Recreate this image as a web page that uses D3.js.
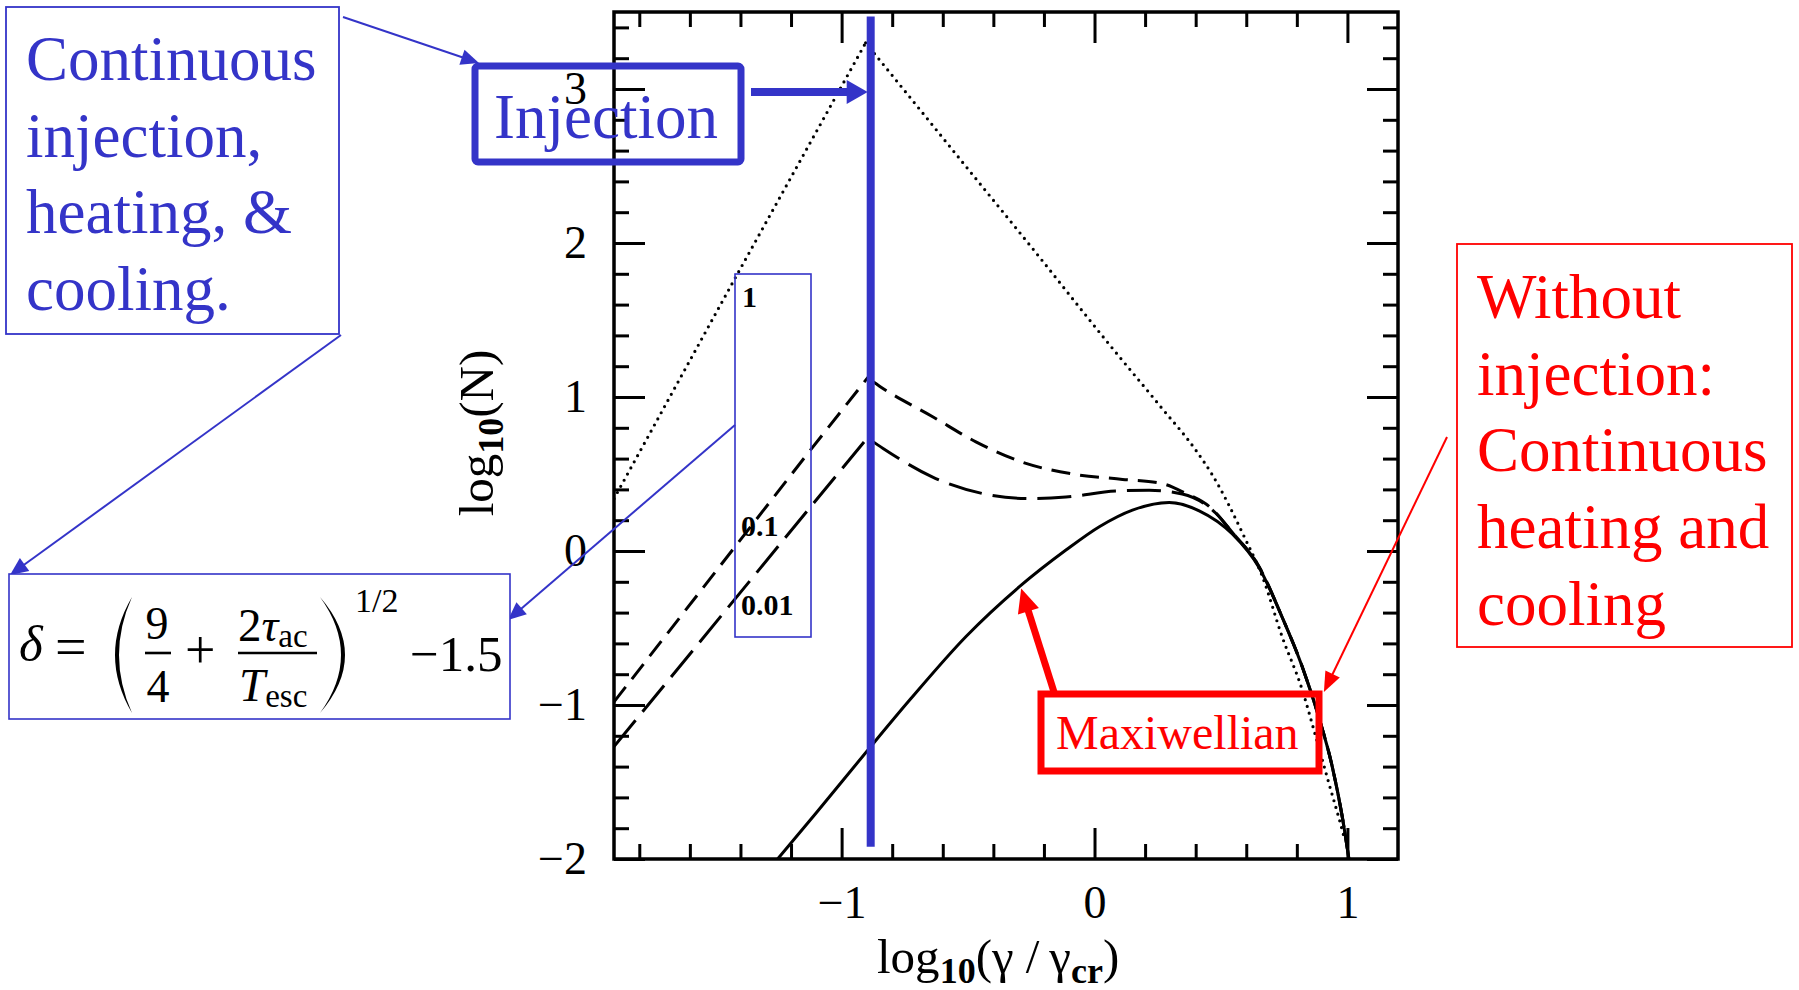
<!DOCTYPE html>
<html><head><meta charset="utf-8">
<script src="https://cdn.jsdelivr.net/npm/d3@7"></script>
<style>body{margin:0;background:#fff}svg{display:block}</style>
</head><body>
<svg id="c" width="1799" height="990"></svg>
<script>
// ---------- data ----------
const xDomain = [-1.9, 1.2];
const yDomain = [-2, 3.5];
const xMajorTicks = [-1, 0, 1];
const xMinorTicks = [-1.8,-1.6,-1.4,-1.2,-0.8,-0.6,-0.4,-0.2,0.2,0.4,0.6,0.8];
const yMajorTicks = [-2, -1, 0, 1, 2, 3];
const yMinorTicks = [-1.8,-1.6,-1.4,-1.2,-0.8,-0.6,-0.4,-0.2,0.2,0.4,0.6,0.8,1.2,1.4,1.6,1.8,2.2,2.4,2.6,2.8,3.2,3.4];
const xTickLabels = ["\u22121", "0", "1"];
const yTickLabels = ["\u22122", "\u22121", "0", "1", "2", "3"];

const injectionX = -0.885;
const injectionYRange = [-1.92, 3.47];

// dotted (1)
const dottedLeftX  = [-1.9, -1.415, -0.905];
const dottedLeftY  = [0.34, 1.79, 3.30];
const dottedRightX = [-0.905, -0.707, -0.505, -0.243, 0.059, 0.26, 0.40, 0.466, 0.598, 0.664, 0.742, 0.821, 0.874, 0.927, 0.979, 0.99];
const dottedRightY = [3.30, 2.90, 2.49, 1.96, 1.34, 0.94, 0.656, 0.494, 0.072, -0.167, -0.557, -0.90, -1.20, -1.51, -1.81, -1.88];

// short dashed (0.1)
const dash1LeftX  = [-1.9, -1.126, -0.885];
const dash1LeftY  = [-0.98, 0.65, 1.15];
const dash1RightX = [-0.885, -0.85, -0.64, -0.469, -0.271, -0.087, 0.111, 0.262, 0.36, 0.453, 0.545, 0.65, 0.742, 0.821, 0.887, 0.94, 0.979, 1.006];
const dash1RightY = [1.11, 1.07, 0.872, 0.709, 0.569, 0.50, 0.465, 0.44, 0.375, 0.29, 0.12, -0.10, -0.43, -0.75, -1.08, -1.40, -1.72, -2.0];

// long dashed (0.01)
const dash2LeftX  = [-1.9, -1.126, -0.885];
const dash2LeftY  = [-1.27, 0.28, 0.76];
const dash2RightX = [-0.885, -0.836, -0.64, -0.442, -0.258, -0.113, 0.084, 0.216, 0.347, 0.48, 0.545, 0.65, 0.742, 0.821, 0.887, 0.94, 0.979, 1.006];
const dash2RightY = [0.72, 0.666, 0.48, 0.373, 0.34, 0.35, 0.39, 0.395, 0.37, 0.245, 0.12, -0.10, -0.43, -0.75, -1.08, -1.40, -1.72, -2.0];

// solid (Maxwellian)
const solidX = [-1.253, -1.1, -0.9, -0.731, -0.508, -0.297, -0.113, 0.019, 0.15, 0.295, 0.414, 0.545, 0.65, 0.742, 0.821, 0.887, 0.94, 0.979, 1.006];
const solidY = [-2.0, -1.70, -1.30, -0.968, -0.555, -0.232, 0.006, 0.158, 0.266, 0.315, 0.261, 0.11, -0.106, -0.43, -0.75, -1.08, -1.40, -1.72, -2.0];

const curveLabels = ["1", "0.1", "0.01"];

// ---------- setup ----------
const svg = d3.select("#c");
svg.append("rect").attr("width",1799).attr("height",990).attr("fill","#fff");
const L = 614, R = 1398, T = 12, B = 859;
const x = d3.scaleLinear().domain(xDomain).range([L, R]);
const y = d3.scaleLinear().domain(yDomain).range([B, T]);
const BLUE = "#3434c8", RED = "#ff0000";
const SERIF = "'Liberation Serif','Times New Roman',serif";

svg.append("clipPath").attr("id","clip").append("rect")
  .attr("x",L).attr("y",T).attr("width",R-L).attr("height",B-T);

const zip = (xs, ys) => xs.map((v,i)=>[v, ys[i]]);
const lineLin = d3.line().x(d=>x(d[0])).y(d=>y(d[1])).curve(d3.curveLinear);
const lineSm = d3.line().x(d=>x(d[0])).y(d=>y(d[1])).curve(d3.curveMonotoneX);

const gc = svg.append("g").attr("clip-path","url(#clip)");
function drawCurve(data, smooth, dash, w, cap){
  gc.append("path").attr("d", (smooth?lineSm:lineLin)(data))
    .attr("fill","none").attr("stroke","#000").attr("stroke-width",w)
    .attr("stroke-dasharray", dash).attr("stroke-linecap", cap||"butt")
    .attr("stroke-linejoin","round");
}
drawCurve(zip(dottedLeftX, dottedLeftY), false, "0 7", 3.2, "round");
drawCurve(zip(dottedRightX, dottedRightY), true, "0 7", 3.2, "round");
drawCurve(zip(dash1LeftX, dash1LeftY), false, "19 10", 3);
drawCurve(zip(dash1RightX, dash1RightY), true, "19 10", 3);
drawCurve(zip(dash2LeftX, dash2LeftY), false, "34 11", 3);
drawCurve(zip(dash2RightX, dash2RightY), true, "34 11", 3);
drawCurve(zip(solidX, solidY), true, null, 3);

// ---------- axes ----------
function styleAxis(g){
  g.select(".domain").remove();
  g.selectAll(".tick line").attr("stroke","#000").attr("stroke-width",3);
  g.selectAll(".tick text").attr("font-family",SERIF).attr("font-size",46).attr("fill","#000");
}
svg.append("g").attr("transform",`translate(0,${B})`)
  .call(d3.axisBottom(x).tickValues(xMajorTicks).tickSizeInner(-31).tickSizeOuter(0).tickPadding(26)
    .tickFormat((d,i)=>xTickLabels[i])).call(styleAxis);
svg.append("g").attr("transform",`translate(0,${B})`)
  .call(d3.axisBottom(x).tickValues(xMinorTicks).tickSizeInner(-15).tickSizeOuter(0).tickFormat("")).call(styleAxis);
svg.append("g").attr("transform",`translate(0,${T})`)
  .call(d3.axisTop(x).tickValues(xMajorTicks).tickSizeInner(-31).tickSizeOuter(0).tickFormat("")).call(styleAxis);
svg.append("g").attr("transform",`translate(0,${T})`)
  .call(d3.axisTop(x).tickValues(xMinorTicks).tickSizeInner(-15).tickSizeOuter(0).tickFormat("")).call(styleAxis);
svg.append("g").attr("transform",`translate(${L},0)`)
  .call(d3.axisLeft(y).tickValues(yMajorTicks).tickSizeInner(-31).tickSizeOuter(0).tickPadding(27)
    .tickFormat((d,i)=>yTickLabels[i])).call(styleAxis);
svg.append("g").attr("transform",`translate(${L},0)`)
  .call(d3.axisLeft(y).tickValues(yMinorTicks).tickSizeInner(-15).tickSizeOuter(0).tickFormat("")).call(styleAxis);
svg.append("g").attr("transform",`translate(${R},0)`)
  .call(d3.axisRight(y).tickValues(yMajorTicks).tickSizeInner(-31).tickSizeOuter(0).tickFormat("")).call(styleAxis);
svg.append("g").attr("transform",`translate(${R},0)`)
  .call(d3.axisRight(y).tickValues(yMinorTicks).tickSizeInner(-15).tickSizeOuter(0).tickFormat("")).call(styleAxis);
svg.append("rect").attr("x",L).attr("y",T).attr("width",R-L).attr("height",B-T)
  .attr("fill","none").attr("stroke","#000").attr("stroke-width",3.5);

// axis titles
const xt = svg.append("text").attr("x",877).attr("y",973).attr("font-family",SERIF).attr("font-size",49).attr("fill","#000");
xt.append("tspan").text("log");
xt.append("tspan").attr("dy",10).attr("font-size",36).attr("font-weight","bold").text("10");
xt.append("tspan").attr("dy",-10).text("(\u03B3 /\u2009\u03B3");
xt.append("tspan").attr("dy",10).attr("font-size",36).attr("font-weight","bold").text("cr");
xt.append("tspan").attr("dy",-10).text(")");

const yt = svg.append("text").attr("transform","translate(493,433) rotate(-90)").attr("text-anchor","middle")
  .attr("font-family",SERIF).attr("font-size",49).attr("fill","#000");
yt.append("tspan").text("log");
yt.append("tspan").attr("dy",10).attr("font-size",36).attr("font-weight","bold").text("10");
yt.append("tspan").attr("dy",-10).text("(N)");

// ---------- curve labels ----------
const lab = svg.append("g").attr("font-family",SERIF).attr("font-weight","bold").attr("font-size",30).attr("fill","#000");
lab.append("text").attr("x",742).attr("y",307).text(curveLabels[0]);
lab.append("text").attr("x",741).attr("y",536).text(curveLabels[1]);
lab.append("text").attr("x",741).attr("y",615).text(curveLabels[2]);
svg.append("rect").attr("x",735).attr("y",274).attr("width",76).attr("height",363)
  .attr("fill","none").attr("stroke",BLUE).attr("stroke-width",1.6);

// ---------- injection line ----------
svg.append("line").attr("x1",x(injectionX)).attr("x2",x(injectionX))
  .attr("y1",y(injectionYRange[0])).attr("y2",y(injectionYRange[1]))
  .attr("stroke",BLUE).attr("stroke-width",8);

// ---------- annotations ----------
function arrow(x1,y1,x2,y2,color,w,hl,hw){
  const dx=x2-x1, dy=y2-y1, len=Math.hypot(dx,dy), ux=dx/len, uy=dy/len;
  const bx=x2-ux*hl, by=y2-uy*hl;
  svg.append("line").attr("x1",x1).attr("y1",y1).attr("x2",bx+ux*1).attr("y2",by+uy*1)
    .attr("stroke",color).attr("stroke-width",w);
  svg.append("path").attr("d",`M${x2},${y2}L${bx-uy*hw},${by+ux*hw}L${bx+uy*hw},${by-ux*hw}Z`).attr("fill",color);
}

// Injection box
svg.append("rect").attr("x",475).attr("y",66).attr("width",266).attr("height",96).attr("rx",3)
  .attr("fill","none").attr("stroke",BLUE).attr("stroke-width",7);
svg.append("text").attr("x",494).attr("y",138).attr("font-family",SERIF).attr("font-size",63)
  .attr("fill",BLUE).text("Injection");
arrow(751, 92, x(-0.897), 92, BLUE, 8, 21, 12);

// top-left box
svg.append("rect").attr("x",6).attr("y",7).attr("width",333).attr("height",327)
  .attr("fill","none").attr("stroke",BLUE).attr("stroke-width",1.8);
const tl = svg.append("text").attr("font-family",SERIF).attr("font-size",63).attr("fill",BLUE);
["Continuous","injection,","heating, &","cooling."].forEach((s,i)=>
  tl.append("tspan").attr("x",26).attr("y",80+i*76.7).text(s));
arrow(343, 17, 479, 63, BLUE, 2, 18, 8);
arrow(341, 335, 10, 575, BLUE, 2, 18, 8);
arrow(735, 425, 508, 620, BLUE, 2, 18, 8);

// formula box
svg.append("rect").attr("x",9).attr("y",574).attr("width",501).attr("height",145)
  .attr("fill","#fff").attr("stroke",BLUE).attr("stroke-width",1.6);
const f = svg.append("g").attr("font-family",SERIF).attr("fill","#000");
f.append("text").attr("x",19).attr("y",661).attr("font-size",51).attr("font-style","italic").text("\u03B4");
f.append("text").attr("x",55).attr("y",666).attr("font-size",56).text("=");
f.append("path").attr("d","M132,597 Q98,655 132,713 Q106,655 132,597 Z").attr("fill","#000");
f.append("text").attr("x",157).attr("y",639).attr("font-size",46).attr("text-anchor","middle").text("9");
f.append("line").attr("x1",145).attr("x2",171).attr("y1",653).attr("y2",653).attr("stroke","#000").attr("stroke-width",2.6);
f.append("text").attr("x",158).attr("y",702).attr("font-size",46).attr("text-anchor","middle").text("4");
f.append("text").attr("x",185).attr("y",668).attr("font-size",54).text("+");
const num = f.append("text").attr("x",238).attr("y",641).attr("font-size",47);
num.append("tspan").text("2");
num.append("tspan").attr("font-style","italic").text("\u03C4");
num.append("tspan").attr("font-size",33).attr("dy",6).text("ac");
f.append("line").attr("x1",238).attr("x2",317).attr("y1",653).attr("y2",653).attr("stroke","#000").attr("stroke-width",2.6);
const den = f.append("text").attr("x",239).attr("y",701).attr("font-size",47);
den.append("tspan").attr("font-style","italic").text("T");
den.append("tspan").attr("font-size",33).attr("dy",6).text("esc");
f.append("path").attr("d","M320,597 Q370,655 320,713 Q362,655 320,597 Z").attr("fill","#000");
f.append("text").attr("x",355).attr("y",612).attr("font-size",34).text("1/2");
f.append("text").attr("x",410).attr("y",671).attr("font-size",51).text("\u22121.5");

// red "Without injection" box
svg.append("rect").attr("x",1457).attr("y",244).attr("width",335).attr("height",403)
  .attr("fill","none").attr("stroke",RED).attr("stroke-width",1.8);
const rt = svg.append("text").attr("font-family",SERIF).attr("font-size",63).attr("fill",RED);
["Without","injection:","Continuous","heating and","cooling"].forEach((s,i)=>
  rt.append("tspan").attr("x",1477).attr("y",318+i*76.7).text(s));
arrow(1447, 437, x(0.907), y(-0.916), RED, 2, 20, 8);

// Maxiwellian box
svg.append("rect").attr("x",1041).attr("y",694).attr("width",278).attr("height",77)
  .attr("fill","none").attr("stroke",RED).attr("stroke-width",7);
svg.append("text").attr("x",1056).attr("y",749).attr("font-family",SERIF).attr("font-size",48)
  .attr("fill",RED).text("Maxiwellian");
arrow(1054, 692, x(-0.29), y(-0.243), RED, 7, 24, 11);
</script>
</body></html>
